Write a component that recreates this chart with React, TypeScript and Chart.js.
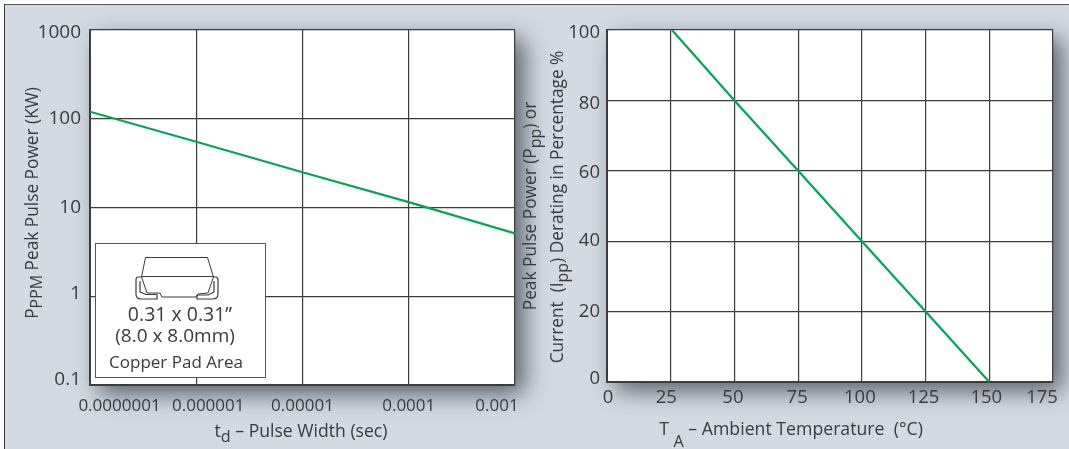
import React, { useEffect, useRef } from "react";
import { Chart, registerables } from "chart.js";

Chart.register(...registerables);

const pulseWidths = [1e-7, 1e-6, 1e-5, 1e-4, 1e-3];
const peakPower = [120, 55, 25, 11.5, 5.1];
const powerTicks = [0.1, 1, 10, 100, 1000];
const pulseLabelShift = [29.5, 12, 0, 0, -18];
const powerLabelShift = [-5, -3, 0, 0, 3];

const temperatures = [25.5, 50, 75, 100, 125, 150];
const derating = [100, 80, 60, 40, 20, 0];
const temperatureTicks = [0, 25, 50, 75, 100, 125, 150, 175];
const deratingTicks = [0, 20, 40, 60, 80, 100];
const temperatureLabelShift = [1, -4.5, -1.5, -1, -2, -2, -3, -11];
const deratingLabelShift = [-3, 0, 0, 1.5, 3, 3];

const FONT = '"Open Sans", sans-serif';
const INK = "#3a3a3c";
const GRID = "#3c3c3e";
const GREEN = "#00a651";
const PANEL = "#d3dae2";

type Run = { t: string; sub?: number };

function drawRuns(ctx: any, x: number, y: number, rotated: boolean, size: number, runs: Run[]) {
  ctx.save();
  ctx.translate(x, y);
  if (rotated) ctx.rotate(-Math.PI / 2);
  ctx.fillStyle = INK;
  ctx.textBaseline = "alphabetic";
  ctx.textAlign = "left";
  const fontOf = (r: Run) => `${r.sub ? size * 0.92 : size}px ${FONT}`;
  let total = 0;
  for (const r of runs) {
    ctx.font = fontOf(r);
    total += ctx.measureText(r.t).width;
  }
  let cx = -total / 2;
  for (const r of runs) {
    ctx.font = fontOf(r);
    ctx.fillText(r.t, cx, r.sub || 0);
    cx += ctx.measureText(r.t).width;
  }
  ctx.restore();
}

function shadowPlugin() {
  return {
    id: "plotShadow",
    beforeDraw(chart: any) {
      const { ctx, chartArea: a } = chart;
      ctx.save();
      ctx.shadowColor = "rgba(45,50,62,0.72)";
      ctx.shadowBlur = 22;
      ctx.shadowOffsetX = 9;
      ctx.shadowOffsetY = 9;
      ctx.fillStyle = "#fff";
      ctx.fillRect(a.left, a.top, a.right - a.left, a.bottom - a.top);
      ctx.restore();
    },
  };
}

function shiftLabels(xShifts: number[], yShifts: number[]) {
  return {
    id: "shiftLabels",
    beforeDraw(chart: any) {
      const apply = (scale: any, shifts: number[], axis: 0 | 1) => {
        const items = scale.getLabelItems(chart.chartArea);
        if (items.__shifted) return;
        items.__shifted = true;
        items.forEach((item: any, i: number) => {
          const tr = [...item.options.translation];
          tr[axis] += shifts[i] || 0;
          item.options.translation = tr;
        });
      };
      apply(chart.scales.x, xShifts, 0);
      apply(chart.scales.y, yShifts, 1);
    },
  };
}

const titlesLeft = {
  id: "titlesLeft",
  afterDraw(chart: any) {
    const { ctx } = chart;
    drawRuns(ctx, 38, 203, true, 17.3, [{ t: "P" }, { t: "PPM", sub: 4 }, { t: " Peak Pulse Power (KW)" }]);
    drawRuns(ctx, 301, 437, false, 17.6, [{ t: "t" }, { t: "d", sub: 5 }, { t: " – Pulse Width (sec)" }]);

    // copper pad inset
    ctx.save();
    ctx.fillStyle = "#fff";
    ctx.strokeStyle = "#55565a";
    ctx.lineWidth = 1;
    ctx.fillRect(95.5, 243.5, 170, 134);
    ctx.strokeRect(95.5, 243.5, 170, 134);
    ctx.strokeStyle = "#3a3a3c";
    ctx.lineJoin = "round";
    ctx.beginPath();
    ctx.moveTo(145.5, 257.5);
    ctx.lineTo(207.5, 257.5);
    ctx.lineTo(213.5, 277);
    ctx.lineTo(208, 293);
    ctx.lineTo(198, 294);
    ctx.lineTo(196, 297);
    ctx.lineTo(162, 297);
    ctx.lineTo(160, 293);
    ctx.lineTo(147, 293);
    ctx.lineTo(141.5, 277);
    ctx.closePath();
    ctx.moveTo(141.5, 276.5);
    ctx.lineTo(213.5, 276.5);
    ctx.stroke();
    ctx.lineWidth = 1.2;
    ctx.beginPath();
    ctx.moveTo(142, 277);
    ctx.lineTo(138, 277);
    ctx.quadraticCurveTo(136, 277, 136, 280);
    ctx.lineTo(136, 294);
    ctx.quadraticCurveTo(136, 299, 141, 299);
    ctx.lineTo(157, 299);
    ctx.lineTo(157, 294.5);
    ctx.lineTo(146, 294.5);
    ctx.lineTo(140, 292);
    ctx.lineTo(140, 281);
    ctx.moveTo(213, 277);
    ctx.lineTo(216, 277);
    ctx.quadraticCurveTo(218, 277, 218, 280);
    ctx.lineTo(218, 294);
    ctx.quadraticCurveTo(218, 299, 213, 299);
    ctx.lineTo(197, 299);
    ctx.lineTo(197, 295);
    ctx.lineTo(208, 295);
    ctx.lineTo(214, 292);
    ctx.lineTo(214, 281);
    ctx.stroke();
    ctx.restore();
    drawRuns(ctx, 180, 321, false, 19.5, [{ t: "0.31 x 0.31”" }]);
    drawRuns(ctx, 175, 342, false, 19, [{ t: "(8.0 x 8.0mm)" }]);
    drawRuns(ctx, 176, 368, false, 17, [{ t: "Copper Pad Area" }]);
  },
};

const titlesRight = {
  id: "titlesRight",
  afterDraw(chart: any) {
    const { ctx } = chart;
    // coordinates are relative to the right canvas, which starts at x = 500
    drawRuns(ctx, 36, 206, true, 17.3, [{ t: "Peak Pulse Power (P" }, { t: "pp", sub: 5 }, { t: ") or" }]);
    drawRuns(ctx, 63, 207, true, 17.3, [{ t: "Current  (I" }, { t: "pp", sub: 5 }, { t: ") Derating in Percentage %" }]);
    drawRuns(ctx, 291, 435, false, 17.7, [{ t: "T " }, { t: "A", sub: 12 }, { t: " – Ambient Temperature  (°C)" }]);
  },
};

function fixX(h: number) {
  return (s: any) => {
    s.height = h;
    s.paddingLeft = 0;
    s.paddingRight = 0;
  };
}
function fixY(w: number) {
  return (s: any) => {
    s.width = w;
    s.paddingTop = 0;
    s.paddingBottom = 0;
  };
}

export default function App() {
  const leftRef = useRef<HTMLCanvasElement>(null);
  const rightRef = useRef<HTMLCanvasElement>(null);

  useEffect(() => {
    const axisCommon = {
      border: { display: true, color: GRID, width: 2 },
      grid: { color: GRID, lineWidth: 1.2, drawTicks: false },
    };
    const left = new Chart(leftRef.current!, {
      type: "line",
      data: {
        labels: pulseWidths,
        datasets: [{
          data: pulseWidths.map((x, i) => ({ x, y: peakPower[i] })),
          borderColor: GREEN,
          borderWidth: 2.2,
          pointRadius: 0,
          tension: 0,
        }],
      },
      options: {
        animation: false,
        responsive: false,
        parsing: false,
        layout: { padding: { left: 0, right: 65, top: 30, bottom: 0 } },
        plugins: { legend: { display: false }, tooltip: { enabled: false } },
        scales: {
          x: {
            type: "logarithmic",
            min: 1e-7,
            max: 1e-3,
            ...axisCommon,
            afterFit: fixX(64),
            afterBuildTicks(s: any) { s.ticks = pulseWidths.map((value) => ({ value })); },
            ticks: {
              autoSkip: false,
              maxRotation: 0,
              minRotation: 0,
              padding: 11,
              color: INK,
              font: { family: FONT, size: 17 },
              callback: (v: number) => v.toFixed(7).replace(/0+$/, ""),
            },
          },
          y: {
            type: "logarithmic",
            min: 0.1,
            max: 1000,
            ...axisCommon,
            afterFit: fixY(90),
            afterBuildTicks(s: any) { s.ticks = powerTicks.map((value) => ({ value })); },
            ticks: {
              autoSkip: false,
              padding: 9,
              color: INK,
              font: { family: FONT, size: 19 },
              callback: (v: number) => String(v),
            },
          },
        },
      },
      plugins: [shadowPlugin(), shiftLabels(pulseLabelShift, powerLabelShift), titlesLeft],
    } as any);

    const right = new Chart(rightRef.current!, {
      type: "line",
      data: {
        labels: temperatures,
        datasets: [{
          data: temperatures.map((x, i) => ({ x, y: derating[i] })),
          borderColor: GREEN,
          borderWidth: 2.2,
          pointRadius: 0,
          tension: 0,
        }],
      },
      options: {
        animation: false,
        responsive: false,
        parsing: false,
        layout: { padding: { left: 0, right: 16, top: 30, bottom: 0 } },
        plugins: { legend: { display: false }, tooltip: { enabled: false } },
        scales: {
          x: {
            type: "linear",
            min: 0,
            max: 175,
            ...axisCommon,
            afterFit: fixX(67),
            afterBuildTicks(s: any) { s.ticks = temperatureTicks.map((value) => ({ value })); },
            ticks: {
              autoSkip: false,
              maxRotation: 0,
              minRotation: 0,
              padding: 5,
              color: INK,
              font: { family: FONT, size: 18.5 },
            },
          },
          y: {
            type: "linear",
            min: 0,
            max: 100,
            ...axisCommon,
            afterFit: fixY(107),
            afterBuildTicks(s: any) { s.ticks = deratingTicks.map((value) => ({ value })); },
            ticks: {
              autoSkip: false,
              padding: 7,
              color: INK,
              font: { family: FONT, size: 18.5 },
            },
          },
        },
      },
      plugins: [shadowPlugin(), shiftLabels(temperatureLabelShift, deratingLabelShift), titlesRight],
    } as any);
    return () => {
      left.destroy();
      right.destroy();
    };
  }, []);

  return (
    <div style={{ position: "absolute", left: 0, top: 0, width: 1069, height: 449, background: "#fff", overflow: "hidden" }}>
      <div style={{ position: "absolute", left: 4, top: 4, width: 1065, height: 445, background: PANEL, borderLeft: "1px solid #3c3c3e", borderTop: "1px solid #55565a", boxSizing: "border-box" }} />
      <canvas ref={leftRef} width={580} height={449} style={{ position: "absolute", left: 0, top: 0, width: 580, height: 449 }} />
      <canvas ref={rightRef} width={569} height={449} style={{ position: "absolute", left: 500, top: 0, width: 569, height: 449 }} />
    </div>
  );
}
